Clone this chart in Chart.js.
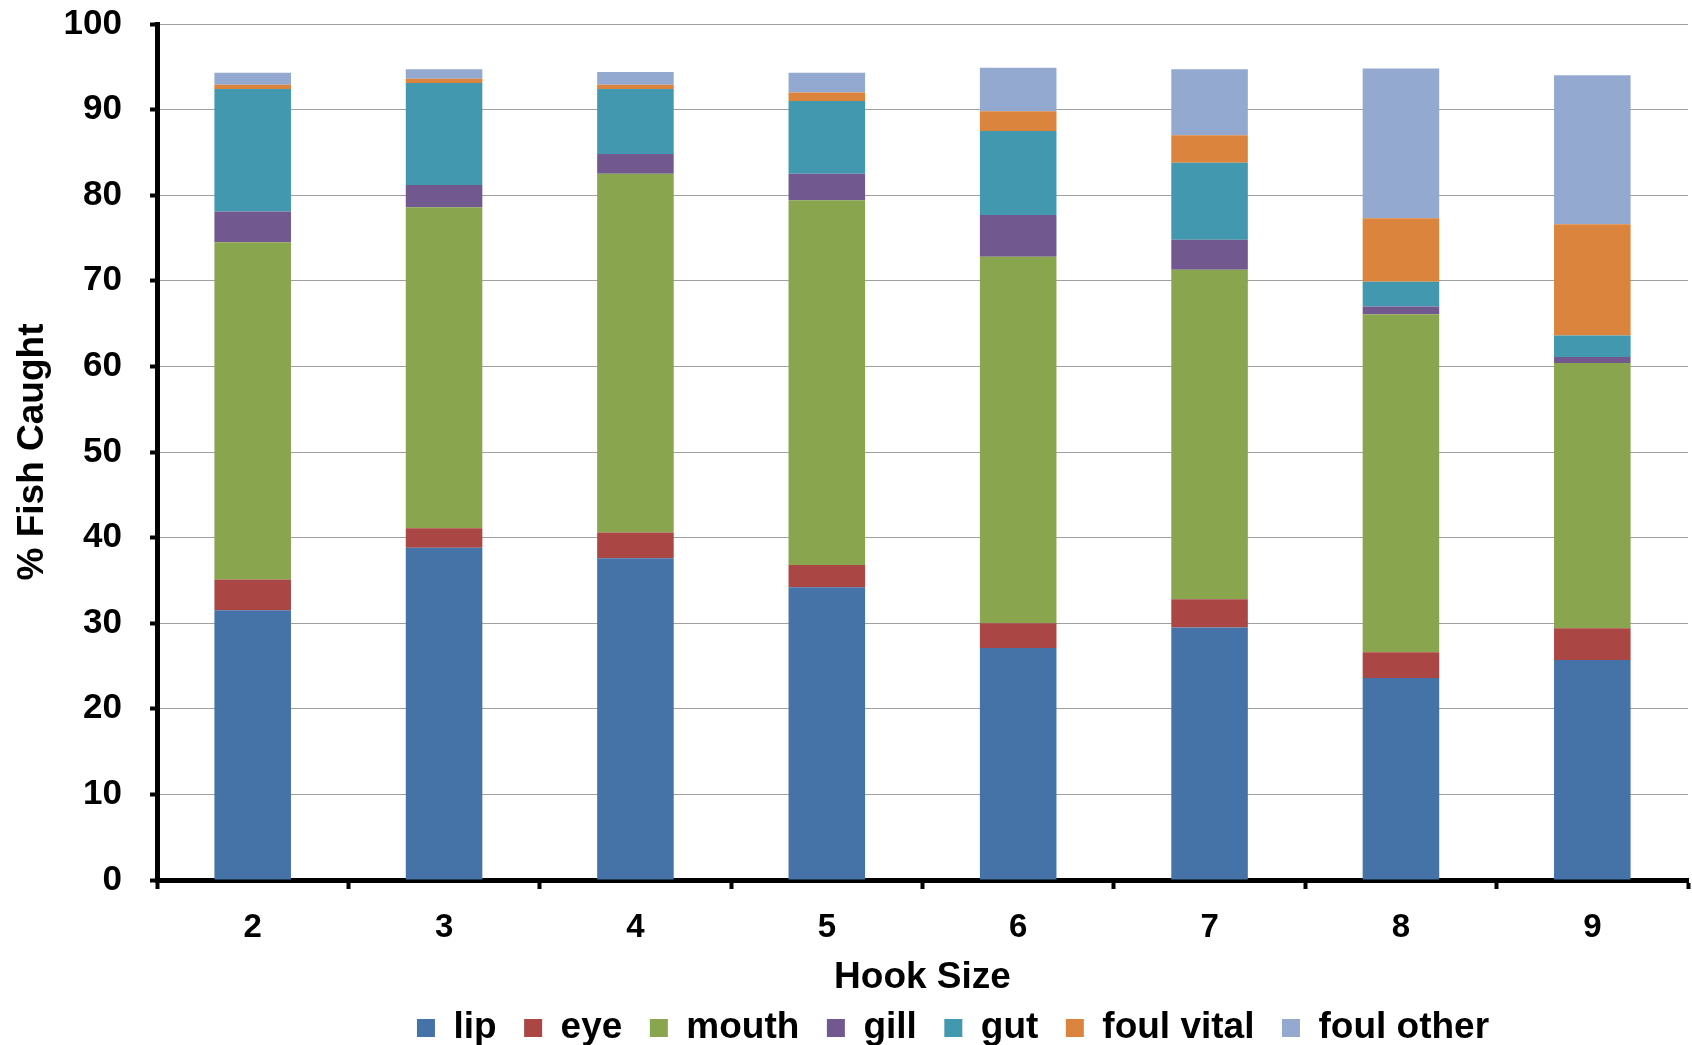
<!DOCTYPE html>
<html>
<head>
<meta charset="utf-8">
<script src="https://cdn.jsdelivr.net/npm/chart.js@4.4.1/dist/chart.umd.min.js"></script>
<style>
  html, body { margin: 0; padding: 0; background: #fff; }
</style>
</head>
<body>
<canvas id="hookChart" width="1692" height="1045"></canvas>
<script>
const hookSizes = ["2", "3", "4", "5", "6", "7", "8", "9"];
const lip = [31.5, 38.8, 37.6, 34.2, 27.1, 29.5, 23.6, 25.7];
const eye = [3.6, 2.3, 3.0, 2.6, 2.9, 3.3, 3.0, 3.7];
const mouth = [39.4, 37.5, 41.9, 42.6, 42.8, 38.5, 39.5, 31.0];
const gill = [3.6, 2.6, 2.3, 3.1, 4.9, 3.5, 0.9, 0.7];
const gut = [14.3, 11.9, 7.6, 8.5, 9.8, 9.0, 2.9, 2.5];
const foulVital = [0.5, 0.5, 0.5, 1.0, 2.3, 3.2, 7.4, 13.0];
const foulOther = [1.4, 1.1, 1.5, 2.3, 5.1, 7.7, 17.5, 17.4];

const seriesNames = ["lip", "eye", "mouth", "gill", "gut", "foul vital", "foul other"];
const seriesColors = ["#4572A7", "#AA4643", "#89A54E", "#71588F", "#4198AF", "#DB843D", "#93A9CF"];
const seriesData = [lip, eye, mouth, gill, gut, foulVital, foulOther];

const font = "'Liberation Sans', Arial, Helvetica, sans-serif";

// legend sits a bit right of centre in the original
const nudgeLegend = {
  id: "nudgeLegend",
  afterLayout(chart) {
    chart.legend.left += 109;
    chart.legend.right += 109;
  }
};

new Chart(document.getElementById("hookChart"), {
  type: "bar",
  data: {
    labels: hookSizes,
    datasets: seriesNames.map((name, i) => ({
      label: name,
      data: seriesData[i],
      backgroundColor: seriesColors[i],
      borderWidth: 0,
      barPercentage: 0.4,
      categoryPercentage: 1
    }))
  },
  options: {
    responsive: false,
    animation: false,
    layout: { padding: { top: 24, right: 4, left: 0, bottom: 0 } },
    plugins: {
      tooltip: { enabled: false },
      legend: {
        position: "bottom",
        maxHeight: 63,
        labels: {
          color: "#000",
          boxWidth: 18,
          boxHeight: 18,
          padding: 27.5,
          font: { family: font, size: 37, weight: "bold" }
        }
      }
    },
    scales: {
      x: {
        stacked: true,
        afterFit: (scale) => { scale.height = 102; },
        grid: {
          offset: true,
          drawOnChartArea: false,
          tickColor: "#000",
          tickWidth: 4,
          tickLength: 9
        },
        border: { color: "#000", width: 5 },
        ticks: {
          color: "#000",
          padding: 19,
          font: { family: font, size: 33, weight: "bold" }
        },
        title: {
          display: true,
          text: "Hook Size",
          color: "#000",
          padding: { top: 0, bottom: -18 },
          font: { family: font, size: 37, weight: "bold" }
        }
      },
      y: {
        stacked: true,
        min: 0,
        max: 100,
        afterFit: (scale) => {
          scale.width = 157;
          scale.paddingTop = 0;
          scale.paddingBottom = 0;
        },
        grid: {
          color: "#a0a0a0",
          lineWidth: 1,
          tickColor: "#000",
          tickWidth: 4,
          tickLength: 7
        },
        border: { color: "#000", width: 5 },
        ticks: {
          stepSize: 10,
          color: "#000",
          padding: 28,
          font: { family: font, size: 35, weight: "bold" }
        },
        title: {
          display: true,
          text: "% Fish Caught",
          color: "#000",
          padding: { top: 11, bottom: 0 },
          font: { family: font, size: 37, weight: "bold" }
        }
      }
    }
  },
  plugins: [nudgeLegend]
});
</script>
</body>
</html>
